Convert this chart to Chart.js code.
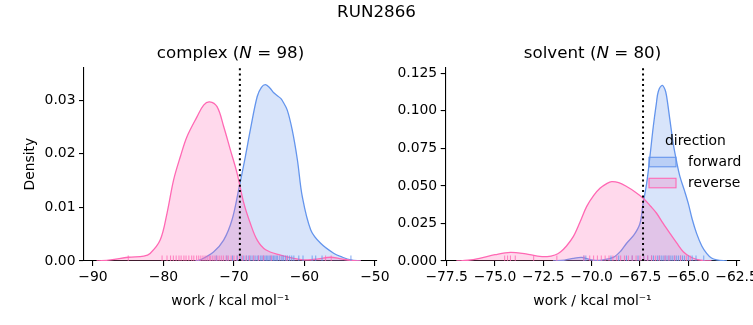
<!DOCTYPE html>
<html>
<head>
<meta charset="utf-8">
<script src="https://cdn.jsdelivr.net/npm/chart.js@4.4.1/dist/chart.umd.min.js"></script>
<style>
  body { margin: 0; background: #fff; }
  #wrap { position: relative; width: 753px; height: 325px; }
  canvas { position: absolute; left: 0; top: 0; }
</style>
</head>
<body>
<div id="wrap">
  <canvas id="complexChart" width="753" height="325"></canvas>
  <canvas id="solventChart" width="753" height="325"></canvas>
</div>
<script>
// --- data ---
const runName = 'RUN2866';
const directions = ['forward', 'reverse'];
const panelNames = ['complex', 'solvent'];
const panelN = [98, 80];
const meanLines = [-69.16, -67.34];

// complex phase KDE curves
const complexFwdX = [-75.5, -74.8, -72.9, -71.46, -70.27, -69.33, -68.38, -67.67, -66.7, -66.1, -65.53, -64.9, -64.35, -63.4, -63.16, -62.45, -61.74, -61.0, -60.3, -59.1, -57.7, -55.8, -54.6, -53.4, -52.0];
const complexFwdY = [0, 0.0002, 0.0017, 0.0039, 0.0077, 0.0133, 0.0195, 0.0245, 0.0307, 0.0324, 0.0329, 0.0323, 0.0314, 0.0304, 0.0300, 0.0282, 0.0245, 0.0189, 0.0120, 0.0058, 0.0033, 0.0014, 0.0007, 0.0002, 0];
const complexRevX = [-89.5, -87.5, -85.0, -82.8, -81.9, -80.47, -79.5, -78.57, -77.6, -76.67, -75.25, -74.3, -73.46, -72.4, -71.46, -70.5, -69.56, -68.6, -67.67, -66.7, -65.5, -63.4, -61.5, -59.6, -58.0, -56.3, -54.8, -53.4, -52.0];
const complexRevY = [0, 0.0002, 0.0007, 0.0009, 0.0014, 0.0039, 0.0089, 0.0151, 0.0195, 0.0232, 0.0269, 0.0291, 0.0297, 0.0288, 0.0251, 0.0207, 0.0164, 0.0108, 0.0070, 0.0039, 0.0021, 0.0011, 0.0005, 0.0002, 0.0004, 0.0007, 0.0004, 0.0001, 0];

// solvent phase KDE curves
const solventFwdX = [-72.0, -71.4, -70.95, -70.52, -70.2, -69.92, -69.4, -68.88, -68.5, -68.19, -67.8, -67.5, -67.34, -67.15, -66.98, -66.81, -66.65, -66.55, -66.35, -66.2, -66.12, -65.95, -65.78, -65.6, -65.43, -65.2, -65.0, -64.8, -64.57, -64.3, -64.05, -63.8, -63.53, -63.0];
const solventFwdY = [0, 0.0006, 0.0018, 0.0024, 0.0014, 0.0005, 0.0008, 0.0024, 0.0065, 0.0118, 0.0175, 0.025, 0.038, 0.052, 0.07, 0.0896, 0.105, 0.1129, 0.1169, 0.114, 0.1096, 0.094, 0.0784, 0.066, 0.0562, 0.047, 0.0384, 0.028, 0.0184, 0.010, 0.0051, 0.002, 0.0008, 0];
const solventRevX = [-77.0, -76.4, -75.8, -75.0, -74.2, -73.4, -72.8, -72.3, -71.9, -71.6, -71.3, -70.95, -70.6, -70.26, -69.9, -69.57, -69.2, -68.96, -68.6, -68.19, -67.75, -67.33, -66.95, -66.64, -66.3, -65.95, -65.6, -65.26, -64.9, -64.57, -64.2, -63.8];
const solventRevY = [0, 0.0005, 0.0018, 0.0042, 0.0058, 0.0047, 0.0033, 0.0029, 0.0040, 0.0062, 0.0100, 0.0162, 0.026, 0.0362, 0.0435, 0.0484, 0.0517, 0.0529, 0.0522, 0.0496, 0.046, 0.0418, 0.0365, 0.0318, 0.025, 0.0184, 0.012, 0.0062, 0.0028, 0.001, 0.0003, 0];

// rug (individual work values)
const complexFwdRug = [-72.5, -71.0, -70.2, -69.5, -69.0, -68.6, -68.2, -67.9, -67.6, -67.3, -67.0, -66.7, -66.5, -66.2, -66.0, -65.8, -65.6, -65.4, -65.2, -65.0, -64.8, -64.6, -64.4, -64.2, -64.0, -63.8, -63.5, -63.2, -63.0, -62.7, -62.4, -62.1, -61.8, -61.5, -60.8, -60.2, -58.9, -58.4, -57.5, -53.4];
const complexRevRug = [-85.0, -80.2, -79.5, -79.0, -78.6, -78.2, -77.8, -77.5, -77.1, -76.8, -76.4, -76.0, -75.7, -75.3, -75.0, -74.7, -74.4, -74.1, -73.8, -73.5, -73.3, -73.0, -72.7, -72.4, -72.1, -71.8, -71.5, -71.1, -70.8, -70.4, -70.0, -69.6, -69.2, -68.8, -68.3, -67.8, -67.2, -66.5, -65.8, -64.7, -62.5, -57.0, -56.2];
const solventFwdRug = [-70.4, -70.3, -69.0, -68.6, -68.2, -67.9, -67.6, -67.3, -67.1, -66.9, -66.8, -66.6, -66.5, -66.4, -66.3, -66.2, -66.1, -66.0, -65.9, -65.8, -65.7, -65.6, -65.5, -65.4, -65.3, -65.2, -65.0, -64.8, -64.6, -64.2];
const solventRevRug = [-74.5, -74.35, -74.2, -73.95, -73.0, -71.8, -70.4, -70.1, -69.9, -69.7, -69.5, -69.3, -69.1, -68.9, -68.7, -68.5, -68.3, -68.1, -67.9, -67.7, -67.5, -67.3, -67.1, -66.9, -66.7, -66.5, -66.2, -66.0, -65.7, -65.4, -65.1, -64.9];

// axes
const complexXTicks = [-90, -80, -70, -60, -50];
const complexYTicks = [0, 0.01, 0.02, 0.03];
const solventXTicks = [-77.5, -75.0, -72.5, -70.0, -67.5, -65.0, -62.5];
const solventYTicks = [0, 0.025, 0.05, 0.075, 0.1, 0.125];
const complexXRange = [-91.28, -49.7];
const complexYMax = 0.03615;
const solventXRange = [-77.55, -62.36];
const solventYMax = 0.129;

// --- styling ---
const BLUE = '100,149,237';
const PINK = '255,105,180';
const FONT = 'DejaVu Sans';
Chart.defaults.font.family = FONT;
Chart.defaults.font.size = 13.9;
Chart.defaults.color = '#000';

function fmt(v, dec) {
    return v.toFixed(dec).replace('-', '\u2212');
}

function kdeSet(xs, ys, rgb) {
    return {
        data: xs.map((x, i) => ({ x: x, y: ys[i] })),
        borderColor: `rgb(${rgb})`,
        backgroundColor: `rgba(${rgb},0.25)`,
        fill: 'origin',
        borderWidth: 1.3,
        pointRadius: 0,
        tension: 0.35
    };
}

function rugSet(xs, yMax, rgb) {
    return {
        type: 'scatter',
        data: xs.map(x => ({ x: x, y: yMax * 0.0145 })),
        showLine: false,
        pointStyle: 'line',
        pointRotation: 90,
        pointRadius: 2.8,
        pointBorderWidth: 1.1,
        pointBorderColor: `rgba(${rgb},0.75)`,
        pointBackgroundColor: `rgba(${rgb},0.75)`
    };
}

function vlineSet(v, yMax) {
    return {
        data: [{ x: v, y: 0 }, { x: v, y: yMax }],
        borderColor: '#000',
        borderWidth: 2,
        borderDash: [2, 3.3],
        pointRadius: 0,
        fill: false
    };
}

function axisStyle() {
    return {
        grid: { drawOnChartArea: false, drawTicks: true, tickLength: 5, color: '#000', lineWidth: 1.1 },
        border: { display: true, color: '#000', width: 1.1 }
    };
}

// subplot title with italic N
const subTitle = {
    id: 'subTitle',
    afterDraw(chart, args, opts) {
        const ctx = chart.ctx;
        const a = chart.chartArea;
        const parts = [[opts.name + ' (', 'normal'], ['N', 'italic'], [' = ' + opts.n + ')', 'normal']];
        let widths = parts.map(p => { ctx.font = `${p[1]} 16.7px "${FONT}"`; return ctx.measureText(p[0]).width; });
        let total = widths.reduce((s, w) => s + w, 0);
        let x = (a.left + a.right) / 2 - total / 2;
        ctx.save();
        ctx.fillStyle = '#000';
        ctx.textBaseline = 'middle';
        ctx.textAlign = 'left';
        parts.forEach((p, i) => {
            ctx.font = `${p[1]} 16.7px "${FONT}"`;
            ctx.fillText(p[0], x, 54);
            x += widths[i];
        });
        if (opts.suptitle) {
            ctx.font = `16.7px "${FONT}"`;
            ctx.textAlign = 'center';
            ctx.fillText(opts.suptitle, 376.5, 13);
        }
        ctx.restore();
    }
};

// seaborn style legend inside the solvent axes
const hueLegend = {
    id: 'hueLegend',
    afterDraw(chart, args, opts) {
        if (!opts.show) return;
        const ctx = chart.ctx;
        const a = chart.chartArea;
        const x0 = a.right - 90.3;
        ctx.save();
        ctx.font = `13.9px "${FONT}"`;
        ctx.textBaseline = 'middle';
        ctx.fillStyle = '#000';
        ctx.textAlign = 'left';
        ctx.fillText('direction', x0 + 16, 141.5);
        const cols = [BLUE, PINK];
        directions.forEach((d, i) => {
            const y = 157.3 + i * 21;
            ctx.fillStyle = `rgba(${cols[i]},0.25)`;
            ctx.fillRect(x0, y, 27, 9.5);
            ctx.strokeStyle = `rgb(${cols[i]})`;
            ctx.lineWidth = 1.1;
            ctx.strokeRect(x0, y, 27, 9.5);
            ctx.fillStyle = '#000';
            ctx.fillText(d, x0 + 39, y + 5);
        });
        ctx.restore();
    }
};

function makePanel(id, cfg) {
    return new Chart(document.getElementById(id), {
        type: 'line',
        data: {
            datasets: [
                vlineSet(cfg.mean, cfg.yMax),
                rugSet(cfg.revRug, cfg.yMax, PINK),
                rugSet(cfg.fwdRug, cfg.yMax, BLUE),
                kdeSet(cfg.revX, cfg.revY, PINK),
                kdeSet(cfg.fwdX, cfg.fwdY, BLUE)
            ]
        },
        options: {
            responsive: false,
            animation: false,
            layout: { padding: cfg.padding },
            plugins: {
                legend: { display: false },
                tooltip: { enabled: false },
                subTitle: { name: cfg.name, n: cfg.n, suptitle: cfg.suptitle },
                hueLegend: { show: cfg.legend }
            },
            scales: {
                x: Object.assign(axisStyle(), {
                    type: 'linear',
                    min: cfg.xRange[0],
                    max: cfg.xRange[1],
                    afterBuildTicks: s => { s.ticks = cfg.xTicks.map(v => ({ value: v })); },
                    afterFit: s => { s.height = 64; s.paddingLeft = 0; s.paddingRight = 0; },
                    ticks: { callback: v => fmt(v, cfg.xDec), padding: 3.5, maxRotation: 0, autoSkip: false },
                    title: { display: true, text: 'work / kcal mol\u207B\u00B9', padding: { top: 0, bottom: 15.5 } }
                }),
                y: Object.assign(axisStyle(), {
                    min: 0,
                    max: cfg.yMax,
                    afterBuildTicks: s => { s.ticks = cfg.yTicks.map(v => ({ value: v })); },
                    afterFit: s => { s.width = cfg.yWidth; s.paddingTop = 0; s.paddingBottom = 0; },
                    ticks: { callback: v => fmt(v, cfg.yDec), padding: 3.5, autoSkip: false },
                    title: { display: cfg.yTitle, text: 'Density', padding: { top: 21.7, bottom: 0 } }
                })
            }
        },
        plugins: [subTitle, hueLegend]
    });
}

makePanel('complexChart', {
    name: panelNames[0], n: panelN[0], suptitle: runName, legend: false, mean: meanLines[0],
    fwdX: complexFwdX, fwdY: complexFwdY, revX: complexRevX, revY: complexRevY,
    fwdRug: complexFwdRug, revRug: complexRevRug,
    xRange: complexXRange, yMax: complexYMax, xTicks: complexXTicks, yTicks: complexYTicks,
    xDec: 0, yDec: 2, yWidth: 84, yTitle: true,
    padding: { left: 0, right: 376, top: 67.3, bottom: 0 }
});

makePanel('solventChart', {
    name: panelNames[1], n: panelN[1], suptitle: null, legend: true, mean: meanLines[1],
    fwdX: solventFwdX, fwdY: solventFwdY, revX: solventRevX, revY: solventRevY,
    fwdRug: solventFwdRug, revRug: solventRevRug,
    xRange: solventXRange, yMax: solventYMax, xTicks: solventXTicks, yTicks: solventYTicks,
    xDec: 1, yDec: 3, yWidth: 60, yTitle: false,
    padding: { left: 385.7, right: 13.7, top: 67.3, bottom: 0 }
});
</script>
</body>
</html>
